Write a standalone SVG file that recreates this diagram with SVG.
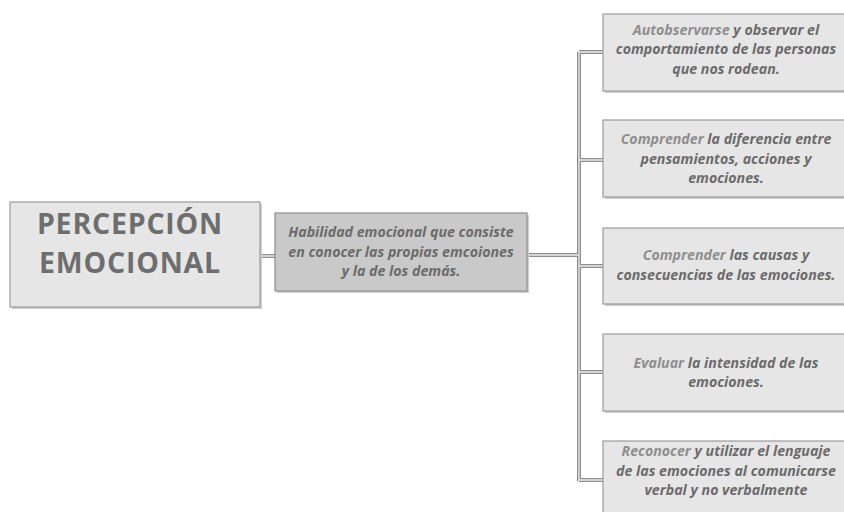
<svg xmlns="http://www.w3.org/2000/svg" width="844" height="512" viewBox="0 0 844 512">
<style>
.box{fill:#e6e6e6;stroke:#9a9a9a;stroke-width:1.2}
.mid{fill:#c9c9c9;stroke:#8f8f8f;stroke-width:1.2}
.sh{fill:#cfcfcf}
.t{font-family:"Open Sans","Liberation Sans",sans-serif;font-weight:bold;font-style:italic;font-size:14.2px;fill:#6b6b6b;text-anchor:middle}
.hl{fill:#8e8e8e}
.title{font-family:"Open Sans","Liberation Sans",sans-serif;font-weight:bold;font-size:28.5px;letter-spacing:0.8px;fill:#6e6e6e;text-anchor:middle}
.co{fill:none;stroke:#8f8f8f;stroke-width:4}
.ci{fill:none;stroke:#ececec;stroke-width:1.3}
</style>
<rect width="844" height="512" fill="#ffffff"/>
<g id="connectors">
  <path class="co" d="M260 256H276M527 255H579M579 52V481M579 52H604M579 160H604M579 266H604M579 372H604M579 480H604"/>
  <path class="ci" d="M260 256H276M527 255H579M579 52V481M579 52H604M579 160H604M579 266H604M579 372H604M579 480H604"/>
</g>
<g id="n0">
  <rect class="sh" x="12" y="204" width="250" height="105"/>
  <rect class="box" x="10" y="202" width="250" height="105"/>
  <text class="title" x="130" y="234">PERCEPCIÓN</text>
  <text class="title" x="130" y="273">EMOCIONAL</text>
</g>
<g id="n1">
  <rect class="sh" x="277" y="215" width="252" height="78"/>
  <rect class="mid" x="275" y="213" width="252" height="78"/>
  <text class="t" x="401" y="237">Habilidad emocional que consiste</text>
  <text class="t" x="401" y="256.5">en conocer las propias emcoiones</text>
  <text class="t" x="401" y="276">y la de los demás.</text>
</g>
<g id="n2">
  <rect class="sh" x="605" y="16" width="250" height="77"/>
  <rect class="box" x="603" y="14" width="250" height="77"/>
  <text class="t" x="726" y="34.5"><tspan class="hl">Autobservarse</tspan> y observar el</text>
  <text class="t" x="726" y="54">comportamiento de las personas</text>
  <text class="t" x="726" y="73.5">que nos rodean.</text>
</g>
<g id="n3">
  <rect class="sh" x="605" y="122" width="250" height="77"/>
  <rect class="box" x="603" y="120" width="250" height="77"/>
  <text class="t" x="726" y="144"><tspan class="hl">Comprender</tspan> la diferencia entre</text>
  <text class="t" x="726" y="163.5">pensamientos, acciones y</text>
  <text class="t" x="726" y="183">emociones.</text>
</g>
<g id="n4">
  <rect class="sh" x="605" y="230" width="250" height="76"/>
  <rect class="box" x="603" y="228" width="250" height="76"/>
  <text class="t" x="726" y="260"><tspan class="hl">Comprender</tspan> las causas y</text>
  <text class="t" x="726" y="279.5">consecuencias de las emociones.</text>
</g>
<g id="n5">
  <rect class="sh" x="605" y="336" width="250" height="77"/>
  <rect class="box" x="603" y="334" width="250" height="77"/>
  <text class="t" x="726" y="367.5"><tspan class="hl">Evaluar</tspan> la intensidad de las</text>
  <text class="t" x="726" y="387">emociones.</text>
</g>
<g id="n6">
  <rect class="sh" x="605" y="443" width="250" height="77"/>
  <rect class="box" x="603" y="441" width="250" height="77"/>
  <text class="t" x="726" y="456"><tspan class="hl">Reconocer</tspan>  y utilizar el lenguaje</text>
  <text class="t" x="726" y="475.5">de las emociones al comunicarse</text>
  <text class="t" x="726" y="495">verbal y no verbalmente</text>
</g>
</svg>
